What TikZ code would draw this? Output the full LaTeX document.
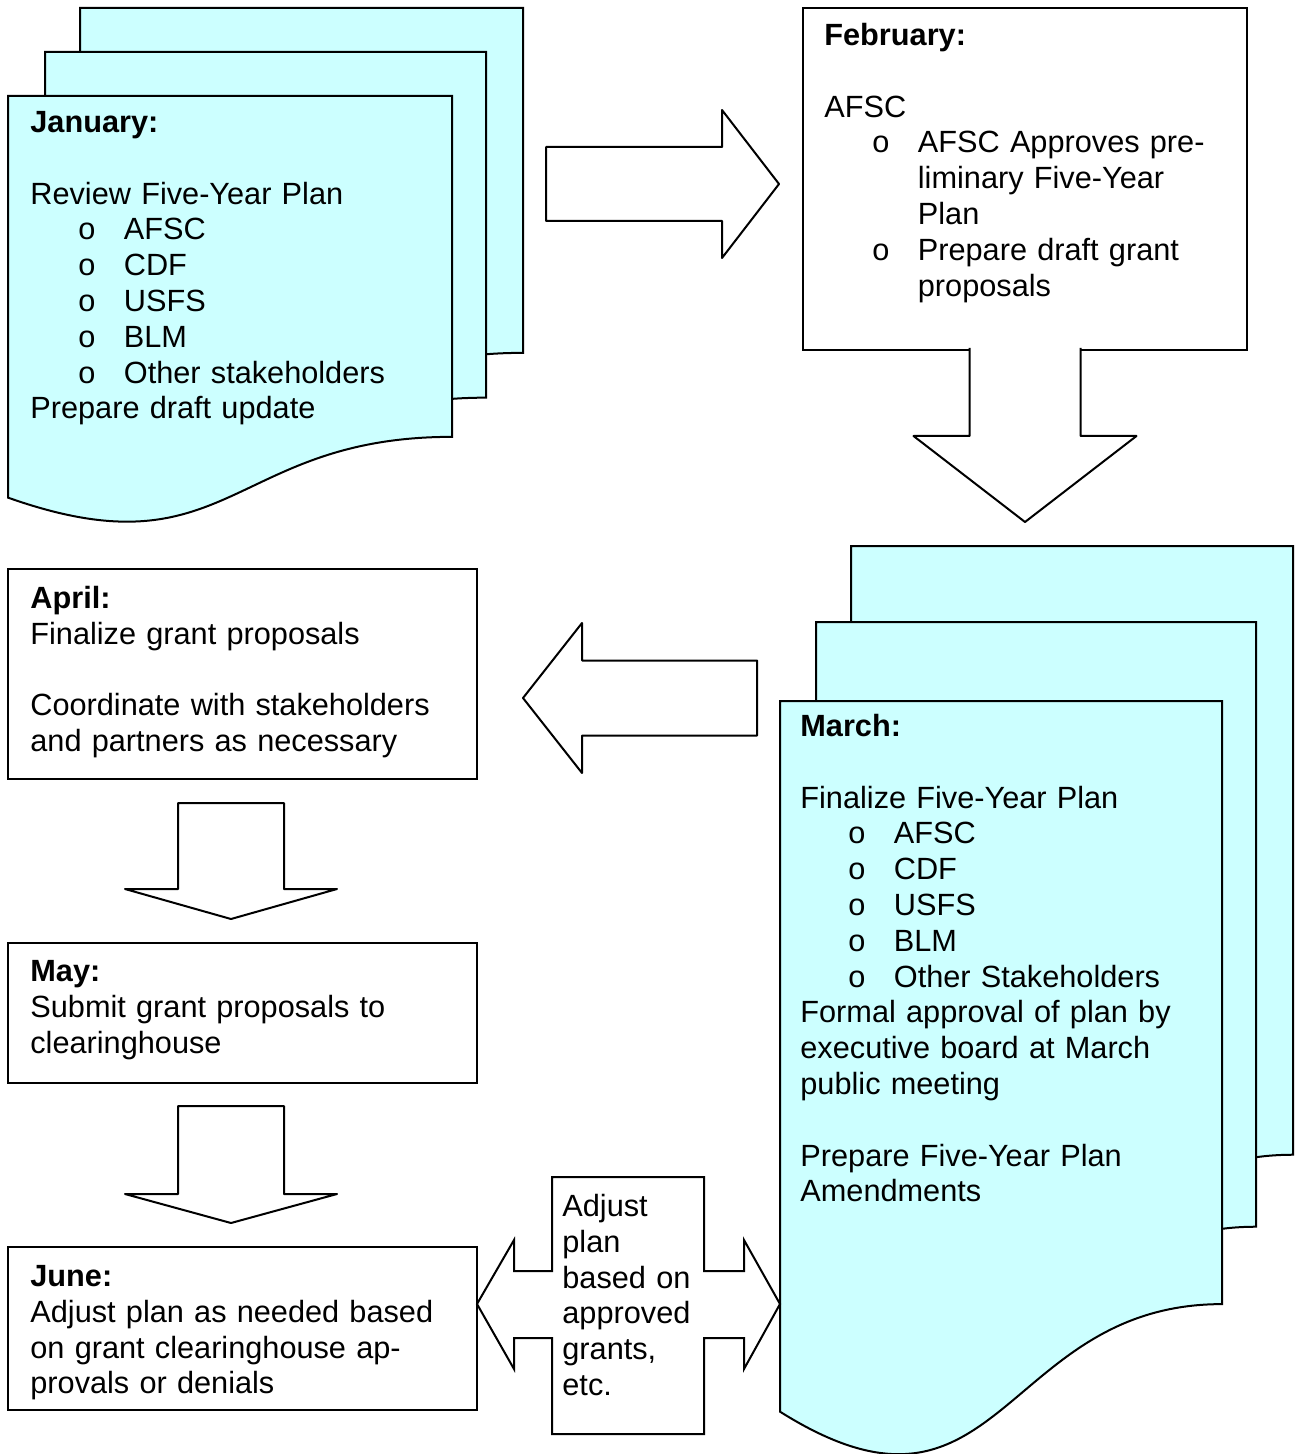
\documentclass[tikz,border=0pt]{standalone}
\usepackage{fontspec}
\setmainfont{Liberation Sans}
\usepackage{tikz}
\usetikzlibrary{calc}
\usetikzlibrary{positioning}
\definecolor{sheetcyan}{HTML}{CCFFFF}

\newcommand{\itm}[1]{\hspace*{24pt}\makebox[22.75pt][l]{o}#1}
\newcommand{\cnt}[1]{\hspace*{46.75pt}#1}
% one page of a stacked document: left, top, right, height
\newcommand{\sheet}[4]{\filldraw[sheet_fill] (#1,#2) -- (#3,#2) -- (#3,{#2+0.802*#4})
  .. controls ({(#1+#3)/2},{#2+0.802*#4}) and ({(#1+#3)/2},{#2+1.13*#4}) .. (#1,{#2+0.945*#4}) -- cycle;}
% block arrow corners: name, tail, tip, half body, half head, head length
\newcommand{\blockarrow}[6]{%
  \coordinate (#1-tp) at (#3);
  \coordinate (#1-hb) at ($(#3)!#6!(#2)$);
  \coordinate (#1-t1) at ($(#2)!#4!90:(#3)$);
  \coordinate (#1-b1) at ($(#1-hb)!#4!90:(#3)$);
  \coordinate (#1-h1) at ($(#1-hb)!#5!90:(#3)$);
  \coordinate (#1-h2) at ($(#1-hb)!#5!-90:(#3)$);
  \coordinate (#1-b2) at ($(#1-hb)!#4!-90:(#3)$);
  \coordinate (#1-t2) at ($(#2)!#4!-90:(#3)$);}
\newcommand{\arrowpath}[1]{(#1-t1) -- (#1-b1) -- (#1-h1) -- (#1-tp) -- (#1-h2) -- (#1-b2) -- (#1-t2)}

\begin{document}
\begin{tikzpicture}[x=0.5pt, y=-0.5pt,
  sheet_fill/.style={fill=sheetcyan, draw=black, line width=1pt},
  box_node/.style={draw, line width=1pt, anchor=north west, inner sep=0pt, outer sep=0pt},
  text_node/.style={anchor=north west, inner sep=0pt, align=left, text width=215pt, font=\fontsize{15.35pt}{17.9pt}\selectfont},
  block_arrow/.style={fill=white, draw=black, line width=1pt, line join=round}]
\fill[white] (0,0) rectangle (1298,1454);
\useasboundingbox (0,0) rectangle (1298,1454);

% January
\sheet{80}{8}{523}{430}
\sheet{45}{52}{486}{431}
\sheet{8}{96}{452}{425}
\node[text_node] (jan) at (30,107) {\strut\textbf{January:}\\[17.9pt]
  Review Five-Year Plan\\ \itm{AFSC}\\ \itm{CDF}\\ \itm{USFS}\\ \itm{BLM}\\ \itm{Other stakeholders}\\
  Prepare draft update};

% February
\node[box_node, minimum width=222pt, minimum height=171pt] (febbox) at (803,8) {};
\node[text_node] (feb) at (824,20) {\strut\textbf{February:}\\[17.9pt]
  AFSC\\ \itm{AFSC Approves pre-}\\ \cnt{liminary Five-Year}\\ \cnt{Plan}\\
  \itm{Prepare draft grant}\\ \cnt{proposals}};

% March
\sheet{851}{546}{1293}{759}
\sheet{816}{622}{1256}{754}
\sheet{780}{701}{1222}{752}
\node[text_node] (mar) at (800,711) {\strut\textbf{March:}\\[17.9pt]
  Finalize Five-Year Plan\\ \itm{AFSC}\\ \itm{CDF}\\ \itm{USFS}\\ \itm{BLM}\\ \itm{Other Stakeholders}\\
  Formal approval of plan by\\ executive board at March\\ public meeting\\[17.9pt]
  Prepare Five-Year Plan\\ Amendments};

% April, May, June
\node[box_node, minimum width=234.5pt, minimum height=105pt] (aprbox) at (8,569) {};
\node[text_node] (apr) at (30,583) {\strut\textbf{April:}\\ Finalize grant proposals\\[17.9pt]
  Coordinate with stakeholders\\ and partners as necessary};
\node[box_node, minimum width=234.5pt, minimum height=70pt] (maybox) at (8,943) {};
\node[text_node] (may) at (30,956) {\strut\textbf{May:}\\ Submit grant proposals to\\ clearinghouse};
\node[box_node, minimum width=234.5pt, minimum height=81.5pt] (junbox) at (8,1247) {};
\node[text_node] (jun) at (30,1261) {\strut\textbf{June:}\\ Adjust plan as needed based\\
  on grant clearinghouse ap-\\ provals or denials};

% arrows
\blockarrow{janfeb}{546,184}{779,184}{18.5pt}{37pt}{28.5pt}
\filldraw[block_arrow] \arrowpath{janfeb} -- cycle;
\coordinate (fmtail) at ($(febbox.south)+(0,-2)$);
\blockarrow{febmar}{fmtail}{1025,522}{27.75pt}{55.75pt}{43pt}
\fill[white] \arrowpath{febmar} -- cycle;
\draw[line width=1pt, line join=round] \arrowpath{febmar};
\blockarrow{marapr}{757,698}{523,698}{18.75pt}{37.5pt}{29.5pt}
\filldraw[block_arrow] \arrowpath{marapr} -- cycle;
\blockarrow{aprmay}{231,803}{231,919}{26.5pt}{53pt}{15pt}
\filldraw[block_arrow] \arrowpath{aprmay} -- cycle;
\blockarrow{mayjun}{231,1106}{231,1223}{26.5pt}{53pt}{14.5pt}
\filldraw[block_arrow] \arrowpath{mayjun} -- cycle;

% two-way callout between June and March
\coordinate (junin) at ($(junbox.north east)+(0,57)$);
\coordinate (marin) at (780,1304);
\filldraw[block_arrow, line join=miter] (552,1177) -- (704,1177) -- (704,1271) -- (744,1271) -- (744,1240) -- (marin)
  -- (744,1369) -- (744,1338) -- (704,1338) -- (704,1434) -- (552,1434) -- (552,1338) -- (514,1338)
  -- (514,1369) -- (junin) -- (514,1240) -- (514,1271) -- (552,1271) -- cycle;
\node[text_node, text width=72pt] (adj) at (562,1191) {\strut Adjust\\ plan\\ based on\\ approved\\ grants,\\ etc.};
\end{tikzpicture}
\end{document}
